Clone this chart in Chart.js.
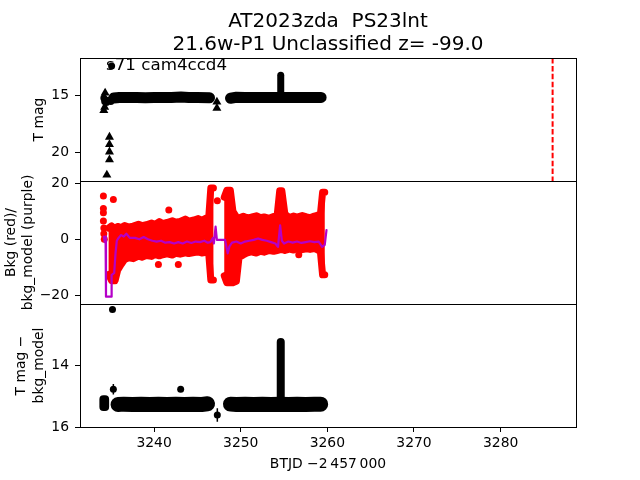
<!DOCTYPE html>
<html><head><meta charset="utf-8">
<script src="https://cdn.jsdelivr.net/npm/chart.js@4.4.1/dist/chart.umd.min.js"></script>
<style>html,body{margin:0;padding:0;background:#fff;} canvas{display:block;}</style>
</head><body>
<canvas id="c" width="640" height="480"></canvas>
<script>
// ---------- DATA ----------
const xTicks = [3240, 3250, 3260, 3270, 3280];
const y1Ticks = [15, 20];
const y2Ticks = [-20, 0, 20];
const y3Ticks = [14, 16];

// Panel 1: T mag (dense detections drawn as bands)
const magSeg1T = [3235.35, 3236.0, 3237.0, 3238.0, 3239.0, 3240.0, 3241.0, 3242.0, 3243.1, 3244.0, 3245.0, 3246.4];
const magSeg1M = [15.2, 15.15, 15.16, 15.15, 15.17, 15.16, 15.15, 15.16, 15.12, 15.16, 15.15, 15.18];
const magSeg2T = [3248.82, 3249.5, 3250.5, 3251.5, 3252.5, 3253.5, 3254.5, 3255.5, 3256.5, 3257.5, 3258.5, 3259.28];
const magSeg2M = [15.22, 15.14, 15.16, 15.15, 15.16, 15.15, 15.15, 15.16, 15.15, 15.16, 15.15, 15.15];
const magSpikeT = [3254.62, 3254.62];
const magSpikeM = [15.15, 13.2];
const magPtsT = [3234.2, 3234.3, 3234.5, 3234.7, 3235.0, 3235.2, 3235.1];
const magPtsM = [15.2, 15.5, 15.6, 15.4, 15.5, 15.35, 12.38];
const upLimT = [3234.2, 3234.3, 3234.35, 3234.85, 3234.85, 3234.85, 3234.85, 3234.55, 3247.25, 3247.25];
const upLimM = [16.3, 16.0, 14.75, 18.65, 19.3, 19.95, 20.65, 22.0, 15.55, 16.1];
const discoveryT = [3286.0];

// Panel 2: background (red) envelope and bkg_model (purple)
const bkgSeg1T  = [3234.75, 3235.1, 3235.5, 3235.8, 3236.2, 3236.6, 3237.1, 3237.6, 3238.2, 3238.6, 3239.1, 3239.7, 3240.1, 3240.6, 3241.0, 3241.5, 3242.1, 3242.5, 3243.0, 3243.6, 3244.0, 3244.6, 3245.1, 3245.5, 3246.0, 3246.3, 3246.55, 3246.85];
const bkgSeg1Hi = [4.0, 4.8, 3.8, 4.6, 4.2, 4.9, 4.4, 4.7, 5.4, 4.9, 5.2, 5.8, 5.3, 6.3, 5.6, 6.0, 6.6, 6.1, 6.4, 7.2, 6.5, 6.9, 7.4, 6.8, 7.6, 7.4, 18.3, 18.3];
const bkgSeg1Lo = [-12.5, -14.8, -14.8, -11.0, -9.0, -7.2, -6.6, -6.9, -6.0, -6.4, -5.8, -6.1, -5.4, -5.9, -5.5, -5.2, -5.6, -5.0, -5.3, -4.8, -5.1, -4.7, -4.5, -4.9, -4.6, -4.8, -14.5, -14.5];
const bkgSeg2T  = [3248.1, 3248.4, 3248.8, 3249.1, 3249.5, 3249.8, 3250.3, 3250.8, 3251.2, 3251.8, 3252.3, 3252.7, 3253.3, 3253.8, 3254.2, 3254.5, 3254.75, 3255.1, 3255.6, 3256.1, 3256.5, 3257.1, 3257.6, 3258.0, 3258.5, 3258.9, 3259.2, 3259.45, 3259.7];
const bkgSeg2Hi = [15.0, 17.5, 17.5, 10.0, 8.0, 7.6, 8.2, 7.6, 7.9, 8.4, 7.7, 8.0, 7.5, 8.2, 8.4, 17.3, 17.3, 9.0, 7.8, 8.3, 7.9, 8.5, 8.0, 7.7, 8.3, 8.6, 9.0, 16.8, 16.8];
const bkgSeg2Lo = [-13.0, -15.5, -15.5, -15.5, -15.0, -6.5, -5.6, -4.8, -4.5, -4.9, -4.3, -4.6, -4.0, -4.3, -4.0, -3.8, -3.6, -4.0, -3.5, -3.8, -3.3, -3.7, -3.4, -3.6, -3.3, -3.8, -4.5, -12.7, -12.7];
const bkgOutT = [3234.15, 3234.15, 3234.15, 3234.15, 3234.2, 3234.2, 3234.25, 3235.3, 3240.5, 3241.7, 3242.8, 3247.3, 3256.7];
const bkgOutV = [15.5, 11.0, 9.5, 6.5, 4.0, 2.0, 0.0, 14.2, -9.0, 10.5, -9.0, 13.8, -5.5];
const modelT = [3234.2, 3234.3, 3234.4, 3234.45, 3235.05, 3235.1, 3235.4, 3235.55, 3235.7, 3235.9, 3236.2, 3236.5, 3236.8, 3237.2, 3237.8, 3238.3, 3238.8, 3239.3, 3239.8, 3240.3, 3240.8, 3241.3, 3241.8, 3242.3, 3242.8, 3243.3, 3243.8, 3244.3, 3244.8, 3245.3, 3245.8, 3246.2, 3246.5, 3246.8, 3246.9, 3247.1, 3247.25, 3248.2, 3248.4, 3248.5, 3248.7, 3249.0, 3249.5, 3250.0, 3250.5, 3251.0, 3251.5, 3252.0, 3252.5, 3253.0, 3253.5, 3254.0, 3254.3, 3254.55, 3254.75, 3255.0, 3255.5, 3256.0, 3256.5, 3257.0, 3257.5, 3258.0, 3258.5, 3259.0, 3259.4, 3259.7, 3259.9];
const modelV = [1.0, -1.0, 1.0, -20.5, -20.5, -12.8, -12.0, -5.0, -0.5, 0.5, 1.5, 1.0, 2.0, 0.5, 0.5, 0.0, 0.8, 0.0, -0.5, -0.8, -0.5, -1.2, -1.0, -1.5, -1.0, -1.5, -0.8, -1.3, -0.8, -1.0, -0.5, -1.2, -1.0, 0.5, -1.5, 4.5, -0.2, -0.2, -3.5, -5.0, -2.5, -1.2, -0.8, -1.5, -0.8, -0.5, -0.2, 0.3, -0.2, -0.5, -1.0, -1.5, -2.7, 5.0, -0.5, -1.5, -0.8, -1.2, -0.8, -1.3, -1.0, -0.7, -1.0, -0.8, -2.7, -2.0, 3.3];

// Panel 3: T mag - bkg_model
const diffSeg1T = [3235.84, 3236.5, 3237.5, 3238.5, 3239.5, 3240.5, 3241.5, 3242.5, 3243.5, 3244.5, 3245.5, 3246.17];
const diffSeg1M = [15.27, 15.26, 15.27, 15.26, 15.27, 15.26, 15.27, 15.26, 15.27, 15.26, 15.27, 15.25];
const diffSeg2T = [3248.82, 3249.5, 3250.5, 3251.5, 3252.5, 3253.5, 3254.5, 3255.5, 3256.5, 3257.5, 3258.5, 3259.23];
const diffSeg2M = [15.26, 15.27, 15.26, 15.27, 15.26, 15.27, 15.26, 15.27, 15.26, 15.27, 15.26, 15.26];
const diffBlobT = [3234.15, 3234.15, 3234.35, 3234.35];
const diffBlobM = [15.1, 15.35, 15.35, 15.1];
const diffSpikeT = [3254.62, 3254.62];
const diffSpikeM = [15.2, 13.25];
const diffPtsT = [3235.2, 3235.3, 3243.07, 3247.3];
const diffPtsM = [12.2, 14.78, 14.78, 15.61];
const diffPtsE = [0.0, 0.17, 0.03, 0.22];

// ---------- helpers ----------
const pts = (T, V) => T.map((t, i) => ({x: t, y: V[i]}));
const FONT = 'DejaVu Sans';
const RED = '#ff0000', PURPLE = '#b400c8';
Chart.defaults.font.family = FONT;
Chart.defaults.color = '#000';

function band(T, V, axis, w, color, order) {
  return {data: pts(T, V), yAxisID: axis, borderColor: color, backgroundColor: color, borderWidth: w,
    pointRadius: 0, borderCapStyle: 'round', borderJoinStyle: 'round', fill: false, tension: 0, order: order};
}
function scatter(T, V, axis, color, r, style, order) {
  return {data: pts(T, V), yAxisID: axis, showLine: false, pointRadius: r, pointStyle: style || 'circle',
    pointBackgroundColor: color, pointBorderColor: color, pointBorderWidth: 0, order: order};
}
const errData = [];
diffPtsT.forEach((t, i) => { if (diffPtsE[i] > 0) { errData.push({x: t, y: diffPtsM[i] - diffPtsE[i]}, {x: t, y: diffPtsM[i] + diffPtsE[i]}, {x: t, y: null}); } });

const datasets = [
  // panel 1
  band(magSeg1T, magSeg1M, 'y1', 11, '#000', 5),
  band(magSeg2T, magSeg2M, 'y1', 11, '#000', 5),
  band(magSpikeT, magSpikeM, 'y1', 7, '#000', 5),
  scatter(magPtsT, magPtsM, 'y1', '#000', 3.5, 'circle', 4),
  scatter(upLimT, upLimM, 'y1', '#000', 5.2, 'triangle', 4),
  {data: [{x: discoveryT[0], y: 11.67}, {x: discoveryT[0], y: 22.53}], yAxisID: 'y1', borderColor: RED, borderWidth: 2,
   borderDash: [5.5, 2.4], pointRadius: 0, order: 3},
  // panel 2 (indices 6..9 are band edges; their interiors are filled by bandFill)
  Object.assign(band(bkgSeg1T, bkgSeg1Hi, 'y2', 7, RED, 10), {bandPair: 7}),
  band(bkgSeg1T, bkgSeg1Lo, 'y2', 7, RED, 10),
  Object.assign(band(bkgSeg2T, bkgSeg2Hi, 'y2', 7, RED, 10), {bandPair: 9}),
  band(bkgSeg2T, bkgSeg2Lo, 'y2', 7, RED, 10),
  scatter(bkgOutT, bkgOutV, 'y2', RED, 3.5, 'circle', 9),
  band(modelT, modelV, 'y2', 2.2, PURPLE, 1),
  // panel 3
  band(diffSeg1T, diffSeg1M, 'y3', 15, '#000', 5),
  band(diffSeg2T, diffSeg2M, 'y3', 15, '#000', 5),
  band(diffBlobT, diffBlobM, 'y3', 8, '#000', 5),
  band(diffSpikeT, diffSpikeM, 'y3', 8, '#000', 5),
  {data: errData, yAxisID: 'y3', borderColor: '#000', borderWidth: 1.5, pointRadius: 0, spanGaps: false, order: 4},
  scatter(diffPtsT, diffPtsM, 'y3', '#000', 3.5, 'circle', 4)
];

// fills the area between an upper and a lower envelope dataset as one polygon (no seams)
const bandFill = {
  id: 'bandFill',
  beforeDatasetsDraw(chart) {
    const ctx = chart.ctx, a = chart.chartArea;
    ctx.save();
    ctx.beginPath(); ctx.rect(a.left, a.top, a.right - a.left, a.bottom - a.top); ctx.clip();
    chart.data.datasets.forEach((ds, i) => {
      if (ds.bandPair === undefined) return;
      const hi = chart.getDatasetMeta(i).data, lo = chart.getDatasetMeta(ds.bandPair).data;
      ctx.beginPath();
      hi.forEach((p, k) => (k ? ctx.lineTo(p.x, p.y) : ctx.moveTo(p.x, p.y)));
      for (let k = lo.length - 1; k >= 0; k--) ctx.lineTo(lo[k].x, lo[k].y);
      ctx.closePath();
      ctx.fillStyle = ds.backgroundColor;
      ctx.fill();
    });
    ctx.restore();
  }
};

function yAxis(min, max, reverse, ticks) {
  return {type: 'linear', position: 'left', stack: 'panels', stackWeight: 1, min: min, max: max, reverse: reverse,
    afterBuildTicks: s => { s.ticks = ticks.map(v => ({value: v})); },
    afterFit: s => { s.width = 80; },
    grid: {drawOnChartArea: false, drawTicks: true, tickLength: 5, tickColor: '#000', tickWidth: 1},
    border: {display: false},
    ticks: {font: {family: FONT, size: 13.9}, color: '#000', padding: 6,
      callback: v => (v < 0 ? '\u2212' + Math.abs(v) : String(v))}};
}

const framePlugin = {
  id: 'frames',
  afterDraw(chart) {
    const ctx = chart.ctx, a = chart.chartArea;
    ctx.save();
    ctx.strokeStyle = '#000'; ctx.lineWidth = 1;
    ['y1', 'y2', 'y3'].forEach(id => {
      const s = chart.scales[id];
      ctx.strokeRect(Math.round(a.left) + 0.5, Math.round(s.top) + 0.5, Math.round(a.right - a.left), Math.round(s.bottom - s.top));
    });
    ctx.fillStyle = '#000';
    const cx = (a.left + a.right) / 2;
    ctx.textAlign = 'center'; ctx.textBaseline = 'alphabetic';
    ctx.font = '20px "' + FONT + '"';
    ctx.fillText('AT2023zda  PS23lnt', cx, 27);
    ctx.fillText('21.6w-P1 Unclassified z= -99.0', cx, 50);
    ctx.textAlign = 'left';
    ctx.font = '16.7px "' + FONT + '"';
    ctx.fillText('s71 cam4ccd4', 106, 70);
    ctx.font = '13.9px "' + FONT + '"';
    ctx.textAlign = 'center';
    ctx.fillText('BTJD \u22122\u2009457\u2009000', cx, 468);
    const rot = (txt, x, y) => { ctx.save(); ctx.translate(x, y); ctx.rotate(-Math.PI / 2); ctx.textBaseline = 'middle'; ctx.fillText(txt, 0, 0); ctx.restore(); };
    const s1 = chart.scales.y1, s2 = chart.scales.y2, s3 = chart.scales.y3;
    rot('T mag', 39, (s1.top + s1.bottom) / 2);
    rot('Bkg (red)/', 11, (s2.top + s2.bottom) / 2);
    rot('bkg_model (purple)', 28, (s2.top + s2.bottom) / 2);
    rot('T mag \u2212', 21, (s3.top + s3.bottom) / 2);
    rot('bkg_model', 39, (s3.top + s3.bottom) / 2);
    ctx.restore();
  }
};

new Chart(document.getElementById('c'), {
  type: 'line',
  data: {datasets: datasets},
  options: {
    responsive: false, animation: false, devicePixelRatio: 1,
    layout: {padding: {left: 0, right: 64, top: 58, bottom: 0}},
    plugins: {legend: {display: false}, title: {display: false}, tooltip: {enabled: false}},
    scales: {
      x: {type: 'linear', min: 3231.45, max: 3288.7,
        afterBuildTicks: s => { s.ticks = xTicks.map(v => ({value: v})); },
        afterFit: s => { s.height = 53; },
        grid: {drawOnChartArea: false, drawTicks: true, tickLength: 5, tickColor: '#000', tickWidth: 1},
        border: {display: false},
        ticks: {font: {family: FONT, size: 13.9}, color: '#000', padding: 3, maxRotation: 0, callback: v => String(v)}},
      // stacked panels: the last listed axis is placed at the top
      y3: yAxis(12.02, 16, true, y3Ticks),
      y2: yAxis(-23.1, 20.82, false, y2Ticks),
      y1: yAxis(11.67, 22.53, true, y1Ticks)
    }
  },
  plugins: [bandFill, framePlugin]
});
</script></body></html>
